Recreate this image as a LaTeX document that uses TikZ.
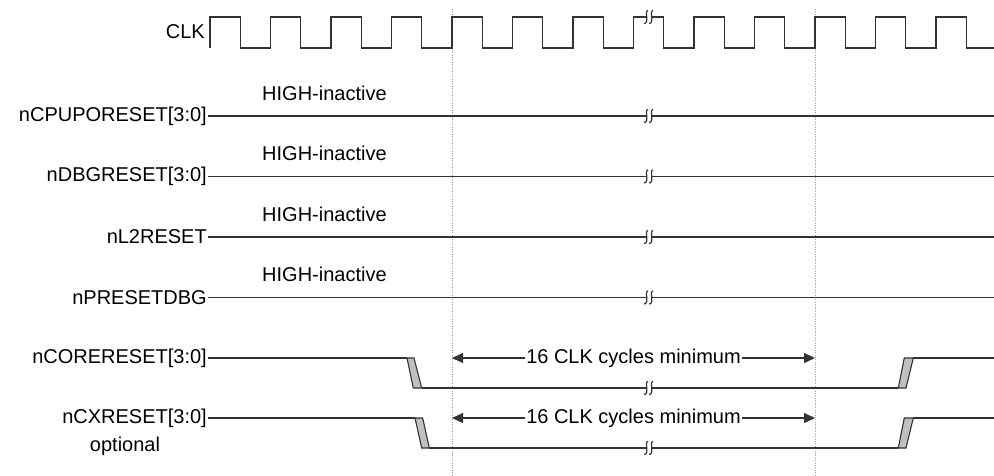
\documentclass[tikz,border=0pt]{standalone}
\usepackage{fontspec}
\setmainfont{Liberation Sans}
\usetikzlibrary{arrows.meta}
\definecolor{ink}{HTML}{333333}
\definecolor{edgegray}{HTML}{C0C0C0}
\definecolor{dotgray}{HTML}{999999}
\begin{document}
\begin{tikzpicture}[x=1pt,y=-1pt,
  sig/.style={draw=ink,line width=1.1pt},
  lbl/.style={font=\fontsize{20}{23}\selectfont,inner sep=0pt,text=black},
  guide/.style={draw=dotgray,line width=0.8pt,dash pattern=on 0.8pt off 1.6pt},
  edgebox/.style={sig,fill=edgegray,line join=miter},
  arr/.style={sig,-{Triangle[length=11pt,width=10pt]}},
  brk/.pic={
    \fill[white] (-2.5,-1.6) rectangle (2.5,1.6);
    \draw[ink,line width=1.2pt] (-0.5,-6.5) .. controls (-4.5,-6.5) and (1.5,6.5) .. (-4.5,6.5);
    \draw[ink,line width=1.2pt] (4.5,-6.5) .. controls (0.5,-6.5) and (6.5,6.5) .. (0.5,6.5);
  }]
\useasboundingbox (0,0) rectangle (994,475);

% guides
\coordinate (g1t) at (452,9);  \coordinate (g1b) at (452,475);
\coordinate (g2t) at (815,9);  \coordinate (g2b) at (815,475);
\draw[guide] (g1t) -- (g1b);
\draw[guide] (g2t) -- (g2b);

% CLK
\node[lbl,anchor=east] (lclk) at (205,32) {CLK};
\draw[sig,line join=miter] (210,48)
  \foreach \k in {0,...,12} { -- ++(0,-31) -- ++(30.25,0) -- ++(0,31) -- ++(30.25,0) };
\pic at (648.5,17) {brk};

% static signals
\foreach \y/\name/\txt in {116/a/nCPUPORESET[3:0],176.5/b/nDBGRESET[3:0],237/c/nL2RESET,297.5/d/nPRESETDBG}{
  \node[lbl,anchor=east] (l\name) at (207,\y) {\txt};
  \node[lbl,anchor=west] (h\name) at (262,\y-23) {HIGH-inactive};
  \coordinate (s\name a) at (208,\y);
  \coordinate (s\name b) at (994,\y);
  \draw[sig] (s\name a) -- (s\name b);
  \pic at (648.5,\y) {brk};
}

% nCORERESET
\node[lbl,anchor=east] (lcore) at (207,358) {nCORERESET[3:0]};
\coordinate (c0) at (208,358);
\coordinate (c1) at (407,358);
\coordinate (c2) at (421.7,388);
\coordinate (c3) at (898.3,388);
\coordinate (c4) at (913.3,358);
\coordinate (c5) at (994,358);
\draw[sig] (c0) -- (c1);
\draw[edgebox] (c1) -- (414,358) -- (c2) -- (413.3,388) -- cycle;
\draw[sig] (c2) -- (c3);
\pic at (648.5,388) {brk};
\draw[edgebox] (c3) -- (906,388) -- (c4) -- (904.3,358) -- cycle;
\draw[sig] (c4) -- (c5);
\node[lbl,fill=white,inner xsep=1pt] (m1) at (633.5,358) {16 CLK cycles minimum};
\coordinate (m1l) at (452,358);
\coordinate (m1r) at (815,358);
\draw[arr] (m1.west) -- (m1l);
\draw[arr] (m1.east) -- (m1r);

% nCXRESET
\node[lbl,anchor=east] (lcx) at (207,418) {nCXRESET[3:0]};
\node[lbl] (lopt) at (125,446) {optional};
\coordinate (x0) at (208,418);
\coordinate (x1) at (415,418);
\coordinate (x2) at (429.3,448);
\coordinate (x3) at (898.3,448);
\coordinate (x4) at (913.3,418);
\coordinate (x5) at (994,418);
\draw[sig] (x0) -- (x1);
\draw[edgebox] (x1) -- (422.7,418) -- (x2) -- (421.7,448) -- cycle;
\draw[sig] (x2) -- (x3);
\pic at (648.5,448) {brk};
\draw[edgebox] (x3) -- (906,448) -- (x4) -- (904.3,418) -- cycle;
\draw[sig] (x4) -- (x5);
\node[lbl,fill=white,inner xsep=1pt] (m2) at (633.5,418) {16 CLK cycles minimum};
\coordinate (m2l) at (452,418);
\coordinate (m2r) at (815,418);
\draw[arr] (m2.west) -- (m2l);
\draw[arr] (m2.east) -- (m2r);
\end{tikzpicture}
\end{document}
